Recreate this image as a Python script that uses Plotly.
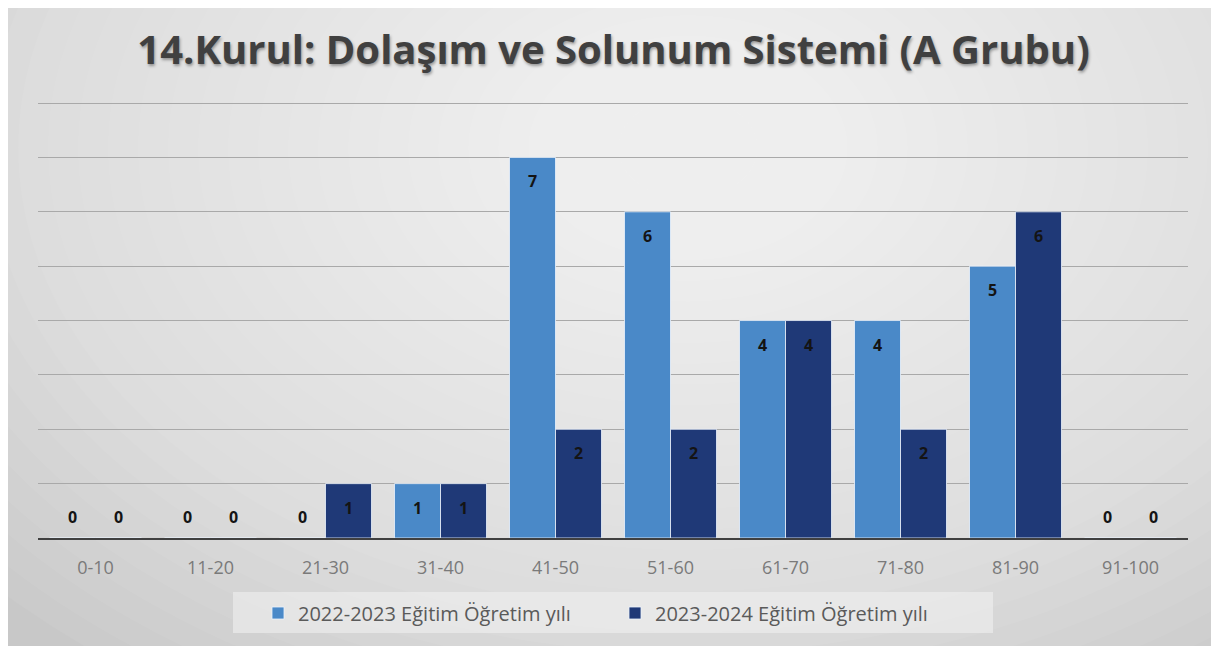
import plotly.graph_objects as go

categories = ["0-10", "11-20", "21-30", "31-40", "41-50", "51-60", "61-70", "71-80", "81-90", "91-100"]
series_names = ["2022-2023 Eğitim Öğretim yılı", "2023-2024 Eğitim Öğretim yılı"]
values_2022 = [0, 0, 0, 1, 7, 6, 4, 4, 5, 0]
values_2023 = [0, 0, 1, 1, 2, 2, 4, 2, 6, 0]
title_text = "14.Kurul: Dolaşım ve Solunum Sistemi (A Grubu)"

colors = ["#4a89c8", "#1f3977"]

# page body has an 8px margin; figure coordinates are page coords minus 8
W, H = 1211, 638
ML, MR, MT, MB = 30, 31, 94, 108
PW, PH = W - ML - MR, H - MT - MB

def px_to_paper_x(px):
    return (px - ML) / PW

def px_to_paper_y(py):
    return (H - MB - py) / PH

fig = go.Figure()
for name, vals, col in zip(series_names, [values_2022, values_2023], colors):
    fig.add_trace(go.Bar(
        x=categories, y=vals, name=name,
        marker=dict(color=col, line=dict(color="rgba(235,242,252,0.8)", width=1)),
        hoverinfo="x+y",
    ))

shapes = []
# fake radial gradient
cx, cy = 680, 140
n = 30
for k in range(n):
    f = 1 - k / n
    rx, ry = 900 * f + 40, 620 * f + 30
    shapes.append(dict(type="circle", xref="paper", yref="paper",
                       x0=px_to_paper_x(cx - rx), x1=px_to_paper_x(cx + rx),
                       y0=px_to_paper_y(cy + ry), y1=px_to_paper_y(cy - ry),
                       fillcolor="rgba(255,255,255,0.055)", line=dict(width=0), layer="below"))
# legend background box
shapes.append(dict(type="rect", xref="paper", yref="paper",
                   x0=px_to_paper_x(225), x1=px_to_paper_x(985),
                   y0=px_to_paper_y(625), y1=px_to_paper_y(584),
                   fillcolor="rgba(240,240,240,0.6)", line=dict(width=0), layer="below"))

annotations = []
for s, vals in enumerate([values_2022, values_2023]):
    for c, v in zip(categories, vals):
        annotations.append(dict(
            x=c, y=v, xref="x", yref="y", text=str(v), showarrow=False,
            xshift=-23 if s == 0 else 23,
            yshift=-24 if v > 0 else 21,
            font=dict(family="Open Sans", size=16, color="#141414", weight="bold"),
        ))

fig.update_layout(
    width=W, height=H,
    margin=dict(l=ML, r=MR, t=MT, b=MB, autoexpand=False),
    paper_bgcolor="#c8c8c8",
    plot_bgcolor="rgba(0,0,0,0)",
    barmode="group", bargap=0.2, bargroupgap=0,
    title=dict(text=title_text, x=0.5, xanchor="center", y=1 - 42 / H, yanchor="middle",
               font=dict(family="Open Sans", size=40, color="#404040", weight="bold",
                         shadow="1px 2px 3px rgba(0,0,0,0.35)")),
    xaxis=dict(showgrid=False, showline=True, linecolor="#404040", linewidth=2,
               ticks="", tickfont=dict(family="Open Sans", size=18, color="#7a7a7a"),
               ticklabelstandoff=12),
    yaxis=dict(range=[0, 8.02], dtick=1, showgrid=True, gridcolor="#a9a9a9", gridwidth=1,
               showticklabels=False, zeroline=False, showline=False, fixedrange=True),
    legend=dict(orientation="h", x=px_to_paper_x(250), xanchor="left",
                y=px_to_paper_y(605), yanchor="middle",
                bgcolor="rgba(0,0,0,0)", borderwidth=0,
                font=dict(family="Open Sans", size=20, color="#5a5a5a"),
                itemwidth=30, entrywidth=312, entrywidthmode="pixels"),
    shapes=shapes,
    annotations=annotations,
    showlegend=True,
)

fig.write_html("out.html")
